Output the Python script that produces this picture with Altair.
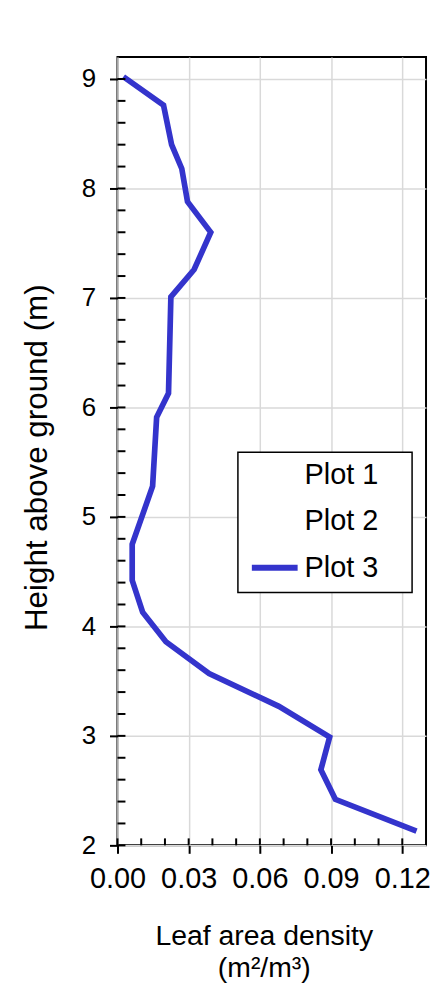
import altair as alt
import pandas as pd

# Data (height above ground vs leaf area density, Plot 3)
heights = [9.02, 8.76, 8.40, 8.18, 7.88, 7.60, 7.26, 7.01, 6.13, 5.91, 5.28,
           4.75, 4.42, 4.13, 3.86, 3.57, 3.27, 2.99, 2.69, 2.42, 2.13]
lad = [0.0025, 0.0194, 0.0228, 0.0271, 0.0295, 0.0393, 0.0323, 0.0225, 0.0215,
       0.0165, 0.0148, 0.0062, 0.0062, 0.0106, 0.0204, 0.0386, 0.0680, 0.0894,
       0.0857, 0.0918, 0.1260]
series_names = ["Plot 1", "Plot 2", "Plot 3"]
series_colors = ["white", "white", "#3434cc"]

x_ticks = [0.00, 0.03, 0.06, 0.09, 0.12]
y_ticks = [2, 3, 4, 5, 6, 7, 8, 9]
x_minor = [0.00, 0.01, 0.02, 0.03, 0.04, 0.05, 0.06, 0.07, 0.08, 0.09, 0.10,
           0.11, 0.12]
y_minor = [2.0, 2.2, 2.4, 2.6, 2.8, 3.0, 3.2, 3.4, 3.6, 3.8, 4.0, 4.2, 4.4,
           4.6, 4.8, 5.0, 5.2, 5.4, 5.6, 5.8, 6.0, 6.2, 6.4, 6.6, 6.8, 7.0,
           7.2, 7.4, 7.6, 7.8, 8.0, 8.2, 8.4, 8.6, 8.8, 9.0]

W, H = 310, 792
FONT = "Liberation Sans"

df = pd.DataFrame({"lad": lad, "h": heights, "idx": list(range(len(lad))),
                   "series": ["Plot 3"] * len(lad)})

xscale = alt.Scale(domain=[0, 0.13], nice=False, zero=False)
yscale = alt.Scale(domain=[2, 9.2], nice=False, zero=False)

line = alt.Chart(df).mark_line(strokeWidth=5.7, strokeJoin="miter").encode(
    x=alt.X("lad:Q", scale=xscale,
            axis=alt.Axis(values=x_ticks, format=".2f",
                          title=["Leaf area density", "(m²/m³)"],
                          grid=True, gridColor="#d9d9d9", gridWidth=1.5,
                          domain=False, tickSize=8, tickWidth=2, tickColor="black",
                          labelFontSize=29, labelFont=FONT, labelColor="black",
                          labelPadding=11, labelFlush=False, labelOverlap=False,
                          titleFontSize=28.5, titleFont=FONT, titleFontWeight="normal",
                          titleColor="black", titleX=147, titleY=100,
                          titleBaseline="alphabetic", titleLineHeight=32,
                          titleAlign="center")),
    y=alt.Y("h:Q", scale=yscale,
            axis=alt.Axis(values=y_ticks, format="d",
                          title="Height above ground (m)",
                          grid=True, gridColor="#d9d9d9", gridWidth=1.5,
                          domain=False, tickSize=8, tickWidth=2, tickColor="black",
                          labelFontSize=26, labelFont=FONT, labelColor="black",
                          labelPadding=14, labelFlush=False, labelOverlap=False,
                          titleFontSize=31.5, titleFont=FONT, titleFontWeight="normal",
                          titleColor="black", titleAngle=270, titleX=-71, titleY=402,
                          titleBaseline="alphabetic", titleAlign="center")),
    color=alt.Color("series:N",
                    scale=alt.Scale(domain=series_names, range=series_colors),
                    legend=alt.Legend(title=None, orient="none", legendX=132,
                                      legendY=394, symbolType="stroke",
                                      symbolSize=2116, symbolStrokeWidth=6,
                                      labelFontSize=29, labelFont=FONT,
                                      labelColor="black", labelOffset=4,
                                      rowPadding=5.5, padding=0)),
    order=alt.Order("idx:Q"),
)

# legend frame (white box)
box = alt.Chart(pd.DataFrame({"a": [0]})).mark_rect(
    fill="white", stroke="black", strokeWidth=1.5
).encode(x=alt.value(121), x2=alt.value(296), y=alt.value(397), y2=alt.value(538))

xminor = alt.Chart(pd.DataFrame({"v": x_minor})).mark_rule(
    color="black", strokeWidth=2
).encode(x=alt.X("v:Q", scale=xscale),
         y=alt.value(H), y2=alt.value(H - 7))

yminor = alt.Chart(pd.DataFrame({"v": y_minor})).mark_rule(
    color="black", strokeWidth=2
).encode(y=alt.Y("v:Q", scale=yscale),
         x=alt.value(0), x2=alt.value(8))

chart = alt.layer(line, box, xminor, yminor).properties(
    width=W, height=H,
    autosize=alt.AutoSizeParams(type="none"),
    padding={"left": 110, "top": 47, "right": 4, "bottom": 140},
).configure(font=FONT).configure_view(stroke="black", strokeWidth=2)

chart.save("out.html", embed_options={"renderer": "svg", "actions": False})
